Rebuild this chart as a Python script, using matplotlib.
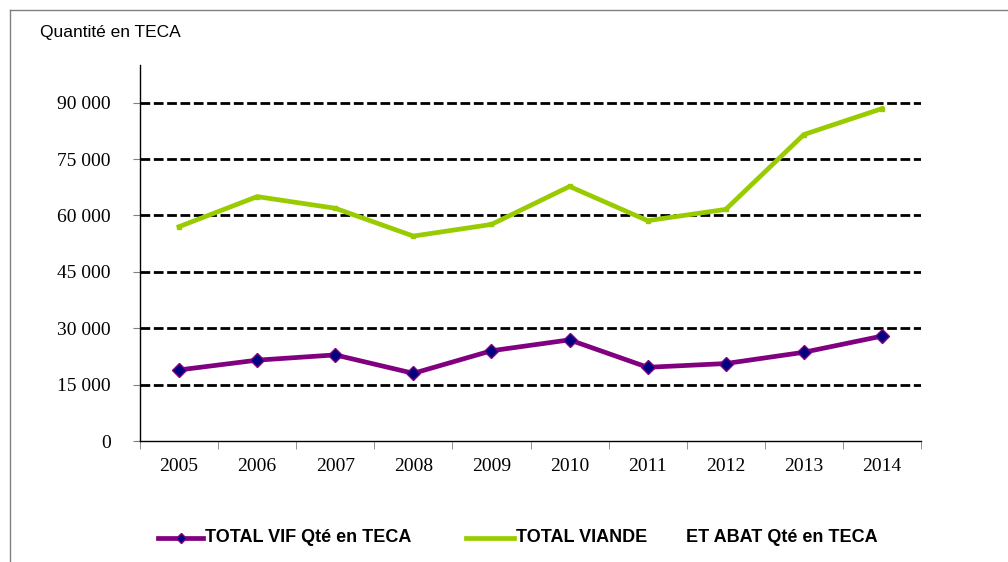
import numpy as np
import matplotlib.pyplot as plt
from matplotlib.lines import Line2D

# Data
years = ["2005", "2006", "2007", "2008", "2009", "2010", "2011", "2012", "2013", "2014"]
vif = [18900, 21500, 22900, 18000, 24000, 26900, 19600, 20600, 23600, 27900]
viande = [57000, 65000, 61900, 54500, 57600, 67700, 58600, 61600, 81500, 88400]
yticks = [0, 15000, 30000, 45000, 60000, 75000, 90000]

purple = "#800080"
green = "#99CC00"
W, H = 1008, 562

fig = plt.figure(figsize=(W / 100, H / 100), dpi=100)
ax = fig.add_axes([140 / W, 1 - 441 / H, 781 / W, 376 / H])

x = np.arange(len(years))

# dashed horizontal gridlines (not at zero)
for yv in yticks[1:]:
    ax.axhline(yv, color="black", lw=2.0, ls=(0, (3.5, 1.3)), zorder=1)

ax.plot(x, viande, color=green, lw=3.4, marker="s", ms=3.5,
        markerfacecolor=green, markeredgecolor=green, zorder=3)
ax.plot(x, vif, color=purple, lw=3.4, marker="D", ms=7.5,
        markerfacecolor="#000080", markeredgecolor=purple, markeredgewidth=1, zorder=3)

ax.set_xlim(-0.5, len(years) - 0.5)
ax.set_ylim(0, 100000)

ax.set_xticks(x)
ax.set_xticklabels(years, family="Liberation Serif", fontsize=14)
ax.set_xticks(np.arange(-0.5, len(years)), minor=True)
ax.tick_params(axis="x", which="major", length=0, pad=12)
ax.tick_params(axis="x", which="minor", length=6, color="#808080", direction="out")

ax.set_yticks(yticks)
ax.set_yticklabels([f"{v:,}".replace(",", " ") for v in yticks],
                   family="Liberation Serif", fontsize=14)
ax.tick_params(axis="y", length=5, color="#808080", pad=16)

for side in ["top", "right"]:
    ax.spines[side].set_visible(False)
for side in ["left", "bottom"]:
    ax.spines[side].set_color("black")
    ax.spines[side].set_linewidth(1.0)

fig.text(40 / W, 1 - 32 / H, "Quantité en TECA", family="Liberation Sans",
         fontsize=12.5, va="center", ha="left")

# outer frame (top and left edges visible)
fig.add_artist(Line2D([10 / W, 1], [1 - 10 / H, 1 - 10 / H],
                      transform=fig.transFigure, color="#808080", lw=1))
fig.add_artist(Line2D([10 / W, 10 / W], [0, 1 - 10 / H],
                      transform=fig.transFigure, color="#808080", lw=1))

# legend, placed by hand
ly = 1 - 538 / H
legend_font = {"family": "Liberation Sans", "weight": "bold", "size": 13}
fig.add_artist(Line2D([158 / W, 203 / W], [ly, ly], transform=fig.transFigure,
                      color=purple, lw=3.4))
fig.add_artist(Line2D([180.5 / W], [ly], transform=fig.transFigure, marker="D",
                      ms=5, markerfacecolor="#000080", markeredgecolor=purple, lw=0))
fig.text(205 / W, ly, "TOTAL VIF Qté en TECA", va="center", ha="left", **legend_font)
fig.add_artist(Line2D([466 / W, 514 / W], [ly, ly], transform=fig.transFigure,
                      color=green, lw=3.4))
fig.text(516 / W, ly, "TOTAL VIANDE", va="center", ha="left", **legend_font)
fig.text(686 / W, ly, "ET ABAT Qté en TECA", va="center", ha="left", **legend_font)

fig.savefig("out.png", dpi=100)
